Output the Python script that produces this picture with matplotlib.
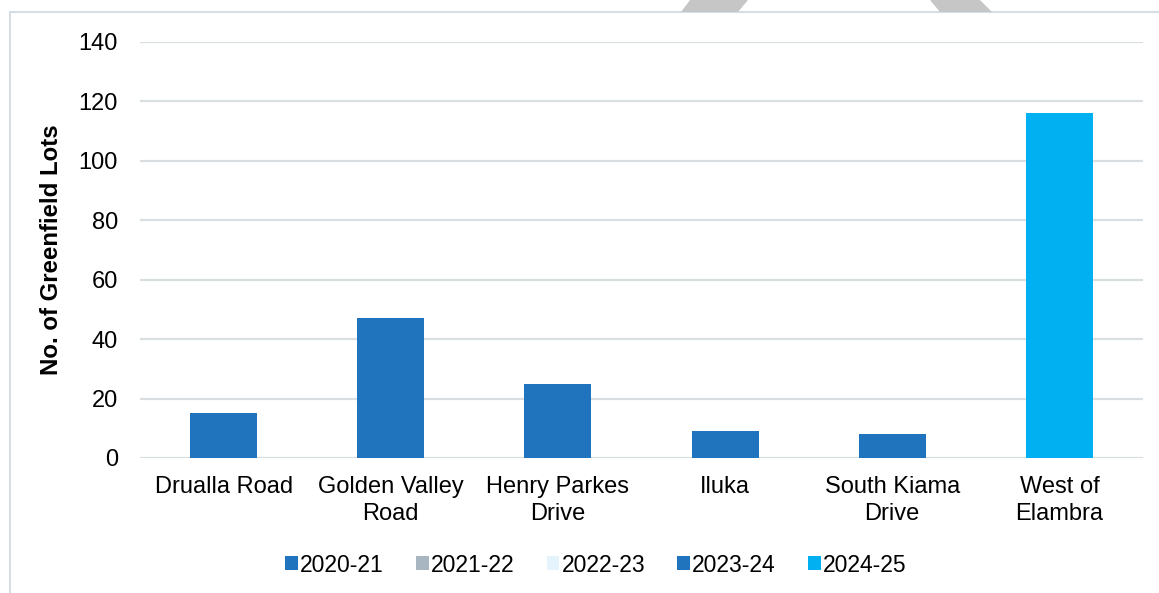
import numpy as np
import matplotlib.pyplot as plt
from matplotlib.patches import Polygon, Rectangle

plt.rcParams['font.family'] = ['Liberation Sans', 'DejaVu Sans']

sites = ['Drualla Road', 'Golden Valley\nRoad', 'Henry Parkes\nDrive', 'Iluka',
         'South Kiama\nDrive', 'West of\nElambra']
years = ['2020-21', '2021-22', '2022-23', '2023-24', '2024-25']
lots_2020_21 = [0, 0, 0, 0, 0, 0]
lots_2021_22 = [0, 0, 0, 0, 0, 0]
lots_2022_23 = [0, 0, 0, 0, 0, 0]
lots_2023_24 = [15, 47, 25, 9, 8, 0]
lots_2024_25 = [0, 0, 0, 0, 0, 116]
colors = ['#1F74BD', '#A7B6C0', '#E5F4FC', '#1F74BD', '#00B0F0']

series = [lots_2020_21, lots_2021_22, lots_2022_23, lots_2023_24, lots_2024_25]

fig = plt.figure(figsize=(11.59, 5.93), dpi=100)
W, H = 1159, 593
ax = fig.add_axes([140 / W, 1 - 458 / H, 1003 / W, 416 / H])

x = np.arange(len(sites))
bottom = np.zeros(len(sites))
for yr, vals, c in zip(years, series, colors):
    vals = np.array(vals, dtype=float)
    ax.bar(x, vals, width=0.4, bottom=bottom, color=c, label=yr, zorder=3)
    bottom += vals

ax.set_xlim(-0.5, len(sites) - 0.5)
ax.set_ylim(0, 140)
ax.set_yticks(np.arange(0, 141, 20))
ax.yaxis.grid(True, color='#D9DEE2', linewidth=1.6, zorder=0)
ax.set_xticks(x, sites, linespacing=1.28)
ax.tick_params(length=0, labelsize=17, colors='black')
ax.tick_params(axis='x', pad=13)
ax.tick_params(axis='y', pad=16)
for s in ax.spines.values():
    s.set_visible(False)
ax.set_ylabel('No. of Greenfield Lots', fontsize=17.3, fontweight='bold', labelpad=11)

ax.legend(loc='center', bbox_to_anchor=(596 / W, 1 - 565 / H), bbox_transform=fig.transFigure,
          ncol=5, frameon=False, fontsize=16.5, handlelength=0.55, handleheight=0.55,
          handletextpad=0.1, columnspacing=1.4)

# outer frame
fig.patches.append(Rectangle((10 / W, -0.01), 1.2, 1 - 12 / H + 0.01, transform=fig.transFigure,
                             fill=False, edgecolor='#D6DEE5', linewidth=1.5, zorder=0))
# draft watermark fragments at the top
for pts in ([(681, 12), (738, 12), (748, 0), (690, 0)],
            [(940, 12), (992, 12), (980, 0), (930, 0)]):
    fig.patches.append(Polygon([(px / W, 1 - py / H) for px, py in pts], closed=True,
                               transform=fig.transFigure, facecolor='#C6C6C6', edgecolor='none'))

fig.savefig('out.png', dpi=100)
